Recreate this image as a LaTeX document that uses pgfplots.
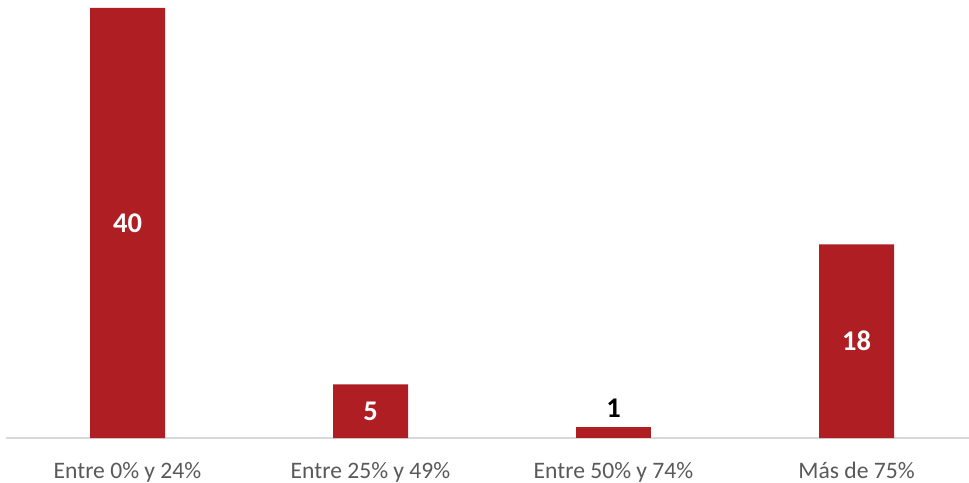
\documentclass[border=0pt]{standalone}
\usepackage{pgfplots}
\pgfplotsset{compat=1.18}
\usepackage{fontspec}
\setmainfont{Carlito}
\definecolor{barred}{HTML}{AF1E23}
\definecolor{ticktext}{HTML}{595959}
\definecolor{axisgrey}{HTML}{D9D9D9}
\begin{document}
\begin{tikzpicture}
\begin{axis}[
  name=ax,
  scale only axis, width=963pt, height=430pt,
  xmin=-0.5, xmax=3.463, ymin=0, ymax=40,
  axis y line=none, axis x line*=bottom,
  axis line style={axisgrey, line width=1.5pt},
  xtick={0,1,2,3},
  xticklabels={Entre 0\% y 24\%, Entre 25\% y 49\%, Entre 50\% y 74\%, Más de 75\%},
  major tick length=0pt,
  xticklabel style={font=\fontsize{23.6}{28}\selectfont, text=ticktext, anchor=base, inner sep=0pt, yshift=-40pt},
  ybar, bar width=75pt, bar shift=0pt,
  /pgf/number format/assume math mode=true,
  clip=false,
]
\addplot[fill=barred, draw=none,
  visualization depends on={y \as \rawy},
  nodes near coords={\pgfmathprintnumber[assume math mode=true]{\pgfplotspointmeta}},
  every node near coord/.append style={font=\bfseries\fontsize{28.5}{30}\selectfont, text=white, anchor=center, yshift=-\rawy*5.375pt}]
  coordinates {(0,40) (1,5) (3,18)};
\addplot[fill=barred, draw=none,
  nodes near coords={\pgfmathprintnumber[assume math mode=true]{\pgfplotspointmeta}},
  every node near coord/.append style={font=\bfseries\fontsize{28.5}{30}\selectfont, text=black, anchor=south, inner sep=0pt, yshift=10pt}]
  coordinates {(2,1)};
\end{axis}
\pgfresetboundingbox
\path ([xshift=-6pt,yshift=8pt]ax.north west) rectangle ([yshift=-44pt]ax.south east);
\end{tikzpicture}
\end{document}
